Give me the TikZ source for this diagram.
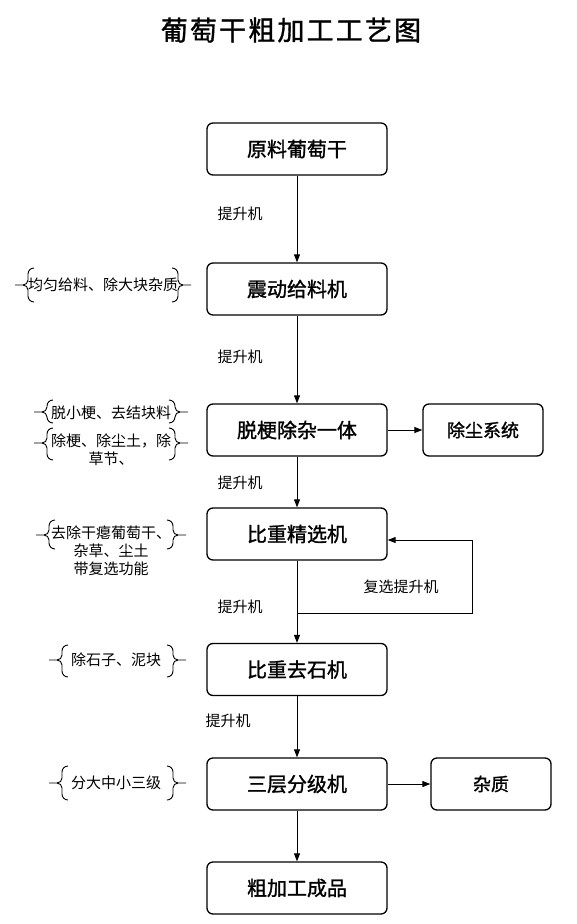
\documentclass[tikz,border=0pt]{standalone}
\usepackage{fontspec}
\setmainfont{Noto Sans CJK SC}
\newfontfamily\titlefont[LetterSpace=8,FakeBold=1.2]{Noto Sans CJK SC}
\newfontfamily\boxfont[FakeBold=1.3]{Noto Sans CJK SC}
\usetikzlibrary{arrows.meta}
\tikzset{
  box/.style={draw, line width=1.3pt, rounded corners=6pt, minimum width=180pt, minimum height=52pt, inner sep=0pt, font=\boxfont\fontsize{20}{24}\selectfont},
  sbox/.style={box, minimum width=120pt, font=\boxfont\fontsize{18}{22}\selectfont},
  arr/.style={line width=1pt, -{Triangle[length=8pt,width=6pt]}},
  lbl/.style={inner sep=0pt, font=\fontsize{15}{18}\selectfont},
  note/.style={inner sep=0pt, align=center, font=\fontsize{15}{18}\selectfont},
  brc/.style={line width=0.9pt}
}
\newcommand\mylb[4]{% x, ytop, ymid, ybot
  \draw[brc] ({#1+6},#2) to[out=180,in=90] (#1,{#2+6}) -- (#1,{#3-5}) to[out=-90,in=0] ({#1-5},#3) -- ({#1-13},#3);
  \draw[brc] ({#1-5},#3) to[out=0,in=90] (#1,{#3+5}) -- (#1,{#4-6}) to[out=-90,in=180] ({#1+6},#4);}
\newcommand\myrb[4]{% x, ytop, ymid, ybot
  \draw[brc] ({#1-6},#2) to[out=0,in=90] (#1,{#2+6}) -- (#1,{#3-5}) to[out=-90,in=180] ({#1+5},#3) -- ({#1+13},#3);
  \draw[brc] ({#1+5},#3) to[out=180,in=90] (#1,{#3+5}) -- (#1,{#4-6}) to[out=-90,in=0] ({#1-6},#4);}
\begin{document}
\begin{tikzpicture}[x=1pt,y=-1pt]
\useasboundingbox (0,0) rectangle (577,924);
\node[inner sep=0pt, font=\titlefont\fontsize{27}{30}\selectfont] (title) at (291,30) {葡萄干粗加工工艺图};

\node[box] (b1) at (297,149) {原料葡萄干};
\node[box] (b2) at (297,289) {震动给料机};
\node[box] (b3) at (297,430) {脱梗除杂一体};
\node[sbox] (d1) at (483,430) {除尘系统};
\node[box] (b4) at (297,534) {比重精选机};
\node[box] (b5) at (297,669.5) {比重去石机};
\node[box] (b6) at (297,784) {三层分级机};
\node[sbox] (d2) at (491,784) {杂质};
\node[box] (b7) at (297,888) {粗加工成品};

\draw[arr] (b1) -- (b2);
\draw[arr] (b2) -- (b3);
\draw[arr] (b3) -- (b4);
\draw[arr] (b4) -- (b5);
\draw[arr] (b5) -- (b6);
\draw[arr] (b6) -- (b7);
\draw[arr] (b3) -- (d1);
\draw[arr] (b6) -- (d2);

\coordinate (fb) at (297,613);
\coordinate (fbr) at (472,613);
\draw[arr] (fb) -- (fbr) |- ([yshift=-6pt]b4.east);

\node[lbl] (l1) at (240,214) {提升机};
\node[lbl] (l2) at (240,357) {提升机};
\node[lbl] (l3) at (240,483) {提升机};
\node[lbl] (l4) at (240,607) {提升机};
\node[lbl] (l5) at (228,721) {提升机};
\node[lbl] (l6) at (401,587) {复选提升机};

\node[note] (n1) at (103,285) {均匀给料、除大块杂质};
\mylb{28}{268}{285}{302}
\myrb{178}{268}{285}{302}

\node[note] (n2) at (111,413) {脱小梗、去结块料};
\mylb{47}{400}{412}{423}
\myrb{175}{400}{412}{423}

\node[note, anchor=north] (n3) at (111,434) {除梗、除尘土，除\\草节、};
\mylb{47}{428}{443}{460}
\myrb{175}{428}{443}{460}

\node[note, anchor=north] (n4) at (111,526) {去除干瘪葡萄干、\\杂草、尘土\\带复选功能};
\mylb{49}{520}{535}{549}
\myrb{173}{520}{535}{549}

\node[note] (n5) at (116,660) {除石子、泥块};
\mylb{62}{645}{660}{677}
\myrb{173}{645}{660}{677}

\node[note] (n6) at (116,783) {分大中小三级};
\mylb{62}{766}{783}{800}
\myrb{173}{766}{783}{800}
\end{tikzpicture}
\end{document}
